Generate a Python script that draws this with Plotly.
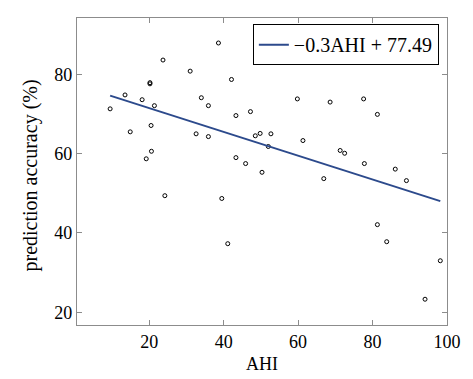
import plotly.graph_objects as go

# AHI vs prediction accuracy
ahi = [9.5, 13.5, 14.9, 18.1, 20.2, 20.2, 21.4, 20.5, 19.2, 20.6,
       23.7, 24.2, 31.0, 32.6, 34.0, 35.9, 35.9, 38.6, 39.5, 41.1,
       42.1, 43.3, 43.3, 45.9, 47.2, 48.5, 49.8, 50.3, 52.0, 52.7,
       59.8, 61.3, 66.9, 68.6, 71.3, 72.5, 77.6, 77.8, 81.3, 81.3,
       83.8, 86.1, 89.1, 94.1, 98.2]
acc = [71.3, 74.8, 65.5, 73.6, 77.9, 77.6, 72.1, 67.1, 58.7, 60.6,
       83.6, 49.4, 80.8, 65.0, 74.1, 72.1, 64.3, 87.9, 48.7, 37.3,
       78.7, 69.6, 59.0, 57.5, 70.6, 64.5, 65.1, 55.3, 61.8, 65.0,
       73.8, 63.3, 53.7, 73.0, 60.8, 60.1, 73.8, 57.5, 69.9, 42.1,
       37.8, 56.1, 53.2, 23.3, 33.0]

slope = -0.3
intercept = 77.49
fit_x = [min(ahi), max(ahi)]
fit_y = [slope * v + intercept for v in fit_x]

serif = "Liberation Serif, DejaVu Serif, Times New Roman, serif"
axcol = "#8c8c8c"

fig = go.Figure()
fig.add_trace(go.Scatter(x=ahi, y=acc, mode="markers",
                         marker=dict(symbol="circle-open", size=4,
                                     color="black", line=dict(width=1)),
                         showlegend=False))
fig.add_trace(go.Scatter(x=fit_x, y=fit_y, mode="lines",
                         line=dict(color="#2c4a8c", width=2),
                         name="\u22120.3AHI + 77.49"))

axis_common = dict(showline=True, linecolor=axcol, linewidth=1.2,
                   mirror="ticks", ticks="inside", ticklen=5,
                   tickcolor=axcol, tickwidth=1, showgrid=False,
                   zeroline=False, automargin=False,
                   tickfont=dict(family=serif, size=18, color="black"),
                   title_font=dict(family=serif, size=18, color="black"))

fig.update_xaxes(range=[0.6, 100], tickvals=[20, 40, 60, 80, 100],
                 title_text="AHI", title_standoff=6, **axis_common)
fig.update_yaxes(range=[16.8, 94.2], tickvals=[20, 40, 60, 80],
                 **axis_common)

# y title as an annotation so it can sit further left
fig.add_annotation(text="prediction accuracy (%)", textangle=-90,
                   xref="paper", yref="paper", x=-0.127, y=0.487,
                   xanchor="center", yanchor="middle", showarrow=False,
                   font=dict(family=serif, size=20, color="black"))

# page body has an 8px margin, so the figure is a bit smaller than the window
fig.update_layout(
    width=465, height=371,
    margin=dict(l=69, r=26, t=10, b=54),
    plot_bgcolor="white", paper_bgcolor="white",
    legend=dict(x=0.978, y=0.98, xanchor="right", yanchor="top",
                bordercolor="black", borderwidth=1, bgcolor="white",
                font=dict(family=serif, size=20, color="black"),
                tracegroupgap=0, itemwidth=30),
)

fig.write_html("out.html")
